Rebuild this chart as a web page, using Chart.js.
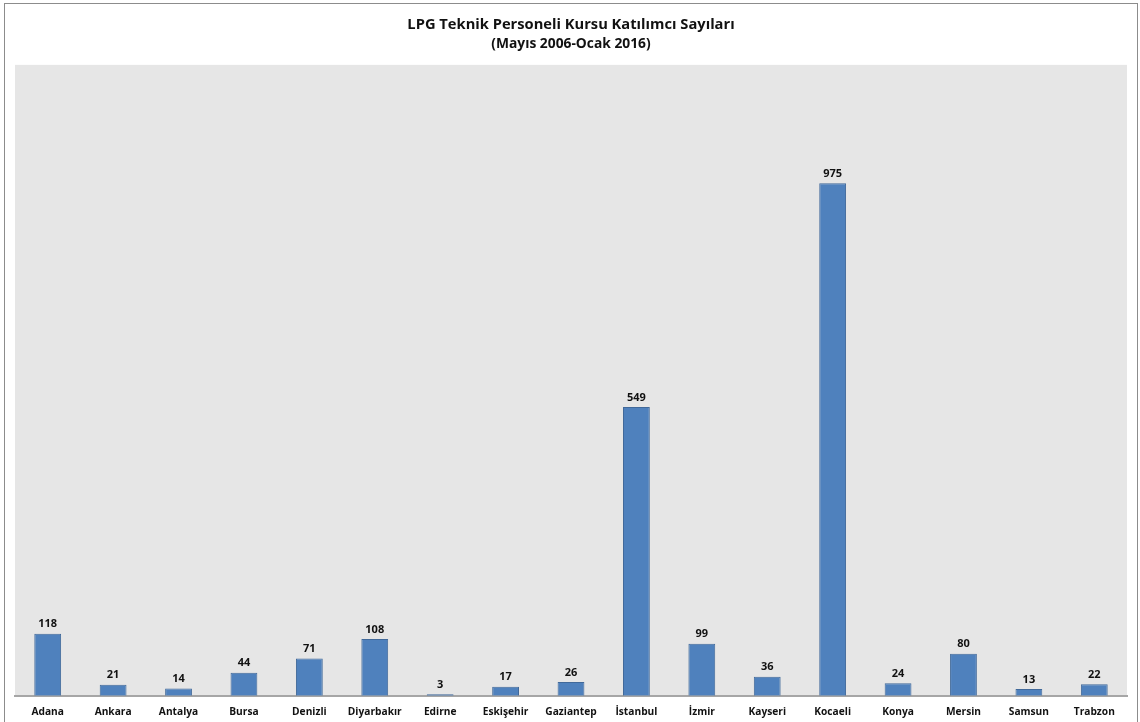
<html>
<head>
<script src="https://cdn.jsdelivr.net/npm/chart.js@4.4.0/dist/chart.umd.min.js"></script>
<style>
  body { margin: 0; background: #fff; }
  canvas { display: block; }
</style>
</head>
<body>
<canvas id="canvas" width="1140" height="722"></canvas>
<script>
// data
var cities = ['Adana', 'Ankara', 'Antalya', 'Bursa', 'Denizli', 'Diyarbakır', 'Edirne', 'Eskişehir', 'Gaziantep',
  'İstanbul', 'İzmir', 'Kayseri', 'Kocaeli', 'Konya', 'Mersin', 'Samsun', 'Trabzon'];
var counts = [118, 21, 14, 44, 71, 108, 3, 17, 26, 549, 99, 36, 975, 24, 80, 13, 22];
var titleText = 'LPG Teknik Personeli Kursu Katılımcı Sayıları';
var subtitleText = '(Mayıs 2006-Ocak 2016)';

var FONT = '"Open Sans", "DejaVu Sans", sans-serif';

// grey plot background + outer frame
var frame = {
  id: 'frame',
  beforeDraw: function(chart) {
    var ctx = chart.ctx, a = chart.chartArea;
    ctx.save();
    ctx.fillStyle = '#e6e6e6';
    ctx.fillRect(a.left, a.top, a.right - a.left, a.bottom - a.top);
    ctx.strokeStyle = '#8c8c8c';
    ctx.lineWidth = 1;
    ctx.strokeRect(4.5, 3.5, 1133, 740);
    ctx.restore();
  }
};

// numbers on top of the bars
var valueLabels = {
  id: 'valueLabels',
  afterDatasetsDraw: function(chart) {
    var ctx = chart.ctx;
    var meta = chart.getDatasetMeta(0);
    ctx.save();
    ctx.font = 'bold 11px ' + FONT;
    ctx.fillStyle = '#111';
    ctx.textAlign = 'center';
    ctx.textBaseline = 'bottom';
    meta.data.forEach(function(bar, i) {
      ctx.fillText(counts[i], bar.x, bar.y - 4);
    });
    ctx.restore();
  }
};

var ctx = document.getElementById('canvas').getContext('2d');
var chart = new Chart(ctx, {
  type: 'bar',
  data: {
    labels: cities,
    datasets: [{
      data: counts,
      backgroundColor: '#4f81bd',
      borderColor: '#41699a',
      borderWidth: 1,
      categoryPercentage: 1,
      barPercentage: 0.41
    }]
  },
  options: {
    responsive: false,
    animation: false,
    layout: { padding: { left: 15, right: 13, top: 0, bottom: -6 } },
    plugins: {
      legend: { display: false },
      tooltip: { enabled: false },
      title: {
        display: true,
        text: titleText,
        color: '#111',
        font: { family: FONT, size: 14.7, weight: 'bold', lineHeight: 1.1 },
        padding: { top: 17, bottom: 0 }
      },
      subtitle: {
        display: true,
        text: subtitleText,
        color: '#111',
        font: { family: FONT, size: 13.8, weight: 'bold', lineHeight: 1.1 },
        padding: { top: 3, bottom: 13.5 }
      }
    },
    scales: {
      x: {
        grid: { display: false, drawTicks: false },
        border: { display: true, color: '#a6a6a6', width: 2 },
        ticks: {
          color: '#111',
          font: { family: FONT, size: 10.2, weight: 'bold', lineHeight: 1.2 },
          padding: 10,
          maxRotation: 0,
          autoSkip: false
        }
      },
      y: {
        display: false,
        min: 0,
        max: 1200
      }
    }
  },
  plugins: [frame, valueLabels]
});
</script>
</body>
</html>
